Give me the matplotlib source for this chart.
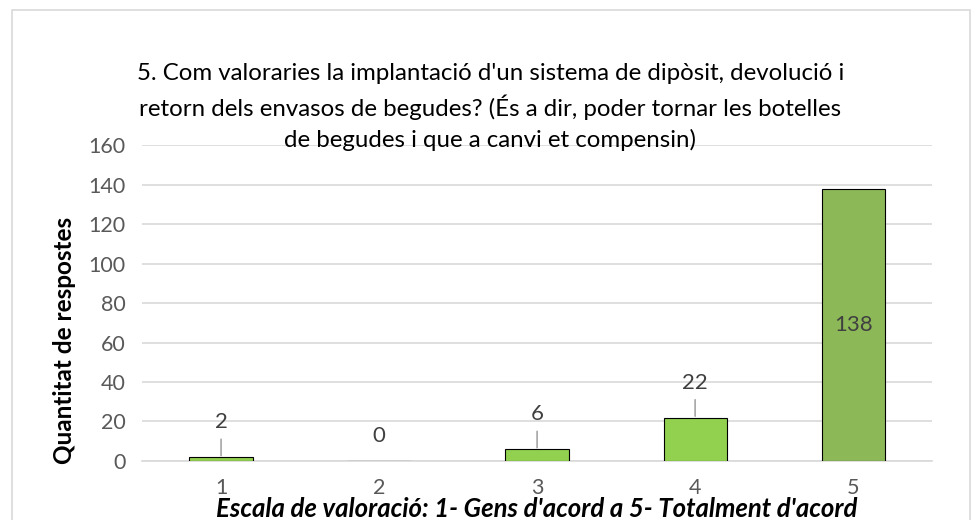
import matplotlib
matplotlib.use("Agg")
import matplotlib.pyplot as plt
from matplotlib.patches import Rectangle

categories = ["1", "2", "3", "4", "5"]
values = [2, 0, 6, 22, 138]
colors = ["#92D050", "#92D050", "#92D050", "#92D050", "#8DB858"]

titol = ("5. Com valoraries la implantació d'un sistema de dipòsit, devolució i\n"
         "retorn dels envasos de begudes? (És a dir, poder tornar les botelles\n"
         "de begudes i que a canvi et compensin)")

plt.rcParams["font.family"] = ["Lato", "DejaVu Sans"]

fig = plt.figure(figsize=(9.73, 5.2), dpi=100)
ax = fig.add_axes([0.146, 0.1135, 0.812, 0.6075])

x = list(range(1, len(categories) + 1))
ax.bar(x, values, width=0.4, color=colors, edgecolor="black", linewidth=0.8, zorder=3)

ax.set_xlim(0.5, 5.5)
ax.set_ylim(0, 160)
ax.set_yticks(range(0, 161, 20))
ax.set_xticks(x)
ax.set_xticklabels(categories)
ax.grid(axis="y", color="#D9D9D9", linewidth=1.2, zorder=0)
for s in ["top", "right", "left"]:
    ax.spines[s].set_visible(False)
ax.spines["bottom"].set_color("#D9D9D9")
ax.spines["bottom"].set_linewidth(1.2)
ax.tick_params(length=0, colors="#595959", labelsize=15.5)
ax.tick_params(axis="y", pad=12)
ax.tick_params(axis="x", pad=12)

# etiquetes de valor
for xi, v in zip(x, values):
    if v > 100:
        ax.text(xi, v / 2, str(v), ha="center", va="center", fontsize=16, color="#404040", zorder=4)
    elif v == 0:
        ax.annotate(str(v), (xi, v), xytext=(0, 18), textcoords="offset points",
                    ha="center", va="center", fontsize=16, color="#404040")
    else:
        ax.annotate(str(v), (xi, v), xytext=(0, 25), textcoords="offset points",
                    ha="center", va="center", fontsize=16, color="#404040",
                    arrowprops=dict(arrowstyle="-", color="#A6A6A6", lw=1.2,
                                    shrinkA=3, shrinkB=1))

ax.set_ylabel("Quantitat de respostes", fontsize=17.5, fontweight="bold", color="black")
ax.yaxis.set_label_coords(-0.083, 0.383)
fig.text(0.552, 0.022, "Escala de valoració: 1- Gens d'acord a 5- Totalment d'acord",
         ha="center", va="center", fontsize=18.5, fontweight="bold", fontstyle="italic", color="black")

fig.text(0.504, 0.794, titol, ha="center", va="center", fontsize=17.3, color="black",
         linespacing=1.5)

fig.patches.append(Rectangle((12 / 973, -0.02), 958 / 973, 1 - 10 / 520 + 0.02,
                             transform=fig.transFigure, fill=False,
                             edgecolor="#D9D9D9", linewidth=1.2))

fig.savefig("out.png", dpi=100)
